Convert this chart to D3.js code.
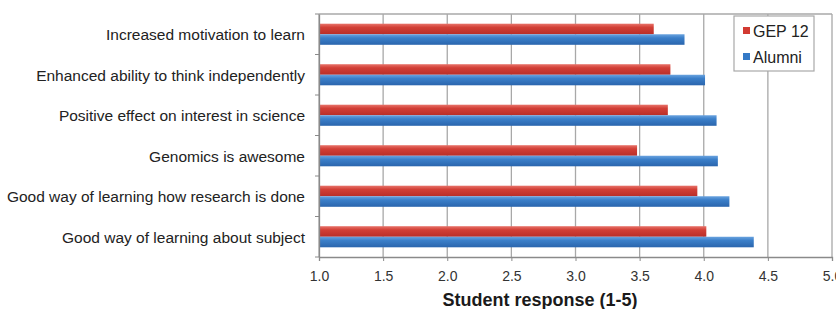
<!DOCTYPE html>
<html>
<head>
<meta charset="utf-8">
<script src="https://cdn.jsdelivr.net/npm/d3@7"></script>
<style>
  body { margin: 0; background: #fff; }
  svg { display: block; font-family: "Liberation Sans", Arial, sans-serif; }
</style>
</head>
<body>
<div id="chart"></div>
<script>
// Survey items, top to bottom
const categories = [
    "Increased motivation to learn",
    "Enhanced ability to think independently",
    "Positive effect on interest in science",
    "Genomics is awesome",
    "Good way of learning how research is done",
    "Good way of learning about subject"
];
const seriesNames = ["GEP 12", "Alumni"];
const gep12 = [3.61, 3.74, 3.72, 3.48, 3.95, 4.02];
const alumni = [3.85, 4.01, 4.10, 4.11, 4.20, 4.39];
const xTicks = [1.0, 1.5, 2.0, 2.5, 3.0, 3.5, 4.0, 4.5, 5.0];

const width = 836, height = 309;
const margin = { top: 14, right: 4, bottom: 52, left: 319 };

const svg = d3.select("#chart").append("svg")
    .attr("width", width)
    .attr("height", height);

// Gradients for the glossy bar look
const defs = svg.append("defs");
function gradient(id, stops) {
    const lg = defs.append("linearGradient")
        .attr("id", id).attr("x1", 0).attr("y1", 0).attr("x2", 0).attr("y2", 1);
    stops.forEach(s => lg.append("stop").attr("offset", s[0]).attr("stop-color", s[1]));
}
gradient("gRed", [[0, "#e8736a"], [0.35, "#d23f36"], [1, "#b92e28"]]);
gradient("gBlue", [[0, "#6aa3df"], [0.35, "#3b7fc9"], [1, "#2a65ad"]]);
const fills = ["url(#gRed)", "url(#gBlue)"];
const swatch = ["#d23a32", "#3479c6"];

const x = d3.scaleLinear().domain([1, 5]).range([margin.left, width - margin.right]);
const y = d3.scaleBand().domain(categories).range([margin.top, height - margin.bottom]);
const inner = d3.scaleBand().domain(seriesNames).range([0, y.bandwidth()]).paddingOuter(0.92);

// Gridlines
svg.append("g")
    .selectAll("line")
    .data(xTicks)
    .join("line")
    .attr("x1", d => x(d)).attr("x2", d => x(d))
    .attr("y1", margin.top).attr("y2", height - margin.bottom)
    .attr("stroke", "#a8a8a8").attr("stroke-width", 1.3);

// Top border
svg.append("line")
    .attr("x1", margin.left).attr("x2", width - margin.right)
    .attr("y1", margin.top).attr("y2", margin.top)
    .attr("stroke", "#a8a8a8").attr("stroke-width", 1.3);

// Bars
const rows = categories.map((c, i) => ({ cat: c, vals: [gep12[i], alumni[i]] }));
const groups = svg.append("g")
    .selectAll("g")
    .data(rows)
    .join("g")
    .attr("transform", d => `translate(0,${y(d.cat)})`);

groups.selectAll("rect")
    .data(d => d.vals.map((v, k) => ({ name: seriesNames[k], v, k })))
    .join("rect")
    .attr("x", x(1))
    .attr("y", d => inner(d.name))
    .attr("width", d => x(d.v) - x(1))
    .attr("height", inner.bandwidth())
    .attr("fill", d => fills[d.k]);

// X axis
const xAxis = svg.append("g")
    .attr("transform", `translate(0,${height - margin.bottom})`)
    .call(d3.axisBottom(x).tickValues(xTicks).tickFormat(d3.format(".1f")).tickSize(4));
xAxis.select(".domain").attr("stroke", "#8a8a8a").attr("stroke-width", 1.3);
xAxis.selectAll(".tick line").attr("stroke", "#8a8a8a");
xAxis.selectAll("text")
    .attr("font-size", 14)
    .attr("fill", "#333")
    .attr("dy", "1.2em");

// Y axis with ticks at category boundaries
const yAxis = svg.append("g")
    .attr("transform", `translate(${margin.left},0)`)
    .call(d3.axisLeft(y).tickSize(0).tickPadding(14));
yAxis.select(".domain").attr("stroke", "#8a8a8a").attr("stroke-width", 1.3);
yAxis.selectAll("text")
    .attr("font-size", 15.5)
    .attr("fill", "#222")
    .attr("dy", "0.4em");
yAxis.selectAll(".bound")
    .data(d3.range(categories.length + 1))
    .join("line")
    .attr("class", "bound")
    .attr("x1", -4).attr("x2", 0)
    .attr("y1", i => margin.top + i * y.step())
    .attr("y2", i => margin.top + i * y.step())
    .attr("stroke", "#8a8a8a");

// Axis title
svg.append("text")
    .attr("x", 540)
    .attr("y", 306)
    .attr("text-anchor", "middle")
    .attr("font-size", 18)
    .attr("font-weight", "bold")
    .attr("fill", "#1a1a1a")
    .text("Student response (1-5)");

// Legend
const legend = svg.append("g").attr("transform", "translate(734,16)");
legend.append("rect")
    .attr("width", 80).attr("height", 55)
    .attr("fill", "#fff").attr("stroke", "#a8a8a8").attr("stroke-width", 1.2);
const item = legend.selectAll("g.item")
    .data(seriesNames)
    .join("g")
    .attr("class", "item")
    .attr("transform", (d, i) => `translate(9,${15 + i * 26})`);
item.append("rect")
    .attr("x", 0).attr("y", -4)
    .attr("width", 7).attr("height", 7)
    .attr("fill", (d, i) => swatch[i]);
item.append("text")
    .attr("x", 10).attr("dy", "0.35em")
    .attr("font-size", 16)
    .attr("fill", "#222")
    .text(d => d);
</script>
</body>
</html>
